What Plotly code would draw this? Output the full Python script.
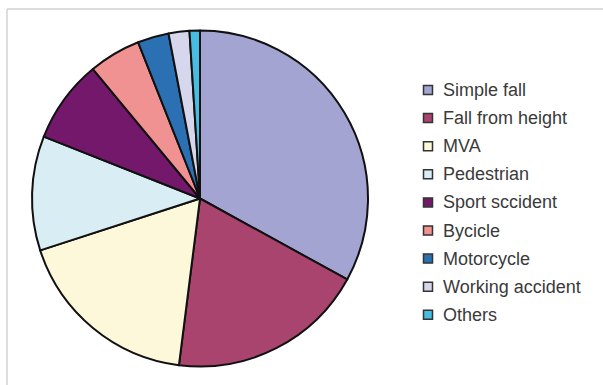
import plotly.graph_objects as go

labels = ["Simple fall", "Fall from height", "MVA", "Pedestrian", "Sport sccident",
          "Bycicle", "Motorcycle", "Working accident", "Others"]
values = [33, 19, 18, 11, 8, 5, 3, 2, 1]
colors = ["#a4a4d2", "#a8446e", "#fdf8da", "#d9edf5", "#74186c",
          "#f09292", "#2c70b4", "#d6d6ec", "#48bde2"]

W, H = 603, 385
cx, cy, r = 200, 198.5, 168

fig = go.Figure(go.Pie(
    labels=labels, values=values, sort=False, direction="clockwise", rotation=0,
    marker=dict(colors=colors, line=dict(color="#111111", width=2)),
    textinfo="none", hoverinfo="label+value", showlegend=False,
    domain=dict(x=[(cx - r) / W, (cx + r) / W], y=[(H - cy - r) / H, (H - cy + r) / H]),
))

shapes = [
    dict(type="line", xref="paper", yref="paper", x0=7 / W, x1=1, y0=1 - 9 / H, y1=1 - 9 / H,
         line=dict(color="#d2d2d2", width=1.5)),
    dict(type="line", xref="paper", yref="paper", x0=7 / W, x1=7 / W, y0=0, y1=1 - 9 / H,
         line=dict(color="#d2d2d2", width=1.5)),
]
annotations = []
y0, dy = 90, 28.1
for i, (lab, col) in enumerate(zip(labels, colors)):
    yc = y0 + dy * i
    shapes.append(dict(type="rect", xref="paper", yref="paper",
                       x0=423.5 / W, x1=432.5 / W, y0=1 - (yc + 4.5) / H, y1=1 - (yc - 4.5) / H,
                       fillcolor=col, line=dict(color="#333333", width=1.5)))
    annotations.append(dict(text=lab, xref="paper", yref="paper", x=441 / W, y=1 - yc / H,
                            xanchor="left", yanchor="middle", showarrow=False,
                            font=dict(family="Liberation Sans, Arial", size=18, color="#3a3a3a")))

fig.update_layout(width=W, height=H, margin=dict(l=0, r=0, t=0, b=0),
                  paper_bgcolor="white", plot_bgcolor="white",
                  shapes=shapes, annotations=annotations)
fig.write_html("out.html")
